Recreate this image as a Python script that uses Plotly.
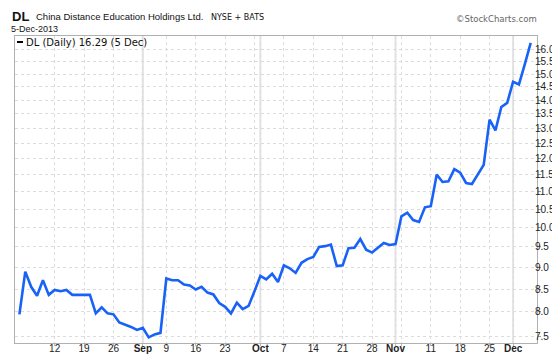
import math
import pandas as pd
import plotly.graph_objects as go

# ---------------- data ----------------
holidays = ["2013-09-02", "2013-11-28"]
dates = [d.strftime("%Y-%m-%d") for d in pd.bdate_range("2013-08-02", "2013-12-05")
         if d.strftime("%Y-%m-%d") not in holidays]

close = [7.95, 8.9, 8.55, 8.35, 8.7, 8.37, 8.48, 8.45, 8.48, 8.37,
         8.37, 8.37, 8.37, 7.97, 8.1, 7.97, 7.95, 7.78, 7.74, 7.69,
         7.63, 7.67, 7.48, 7.54, 7.57, 8.74, 8.7, 8.7, 8.6, 8.58,
         8.49, 8.55, 8.42, 8.38, 8.19, 8.11, 7.97, 8.2, 8.06, 8.13,
         8.45, 8.8, 8.72, 8.85, 8.66, 9.05, 8.98, 8.87, 9.11, 9.2,
         9.25, 9.5, 9.52, 9.56, 9.03, 9.05, 9.47, 9.48, 9.7, 9.43,
         9.36, 9.47, 9.6, 9.55, 9.57, 10.3, 10.4, 10.2, 10.15, 10.55,
         10.58, 11.5, 11.28, 11.3, 11.67, 11.56, 11.25, 11.22, 11.5, 11.8,
         13.3, 12.93, 13.75, 13.9, 14.7, 14.6, 15.4, 16.29]

week_ticks = ["2013-08-12", "2013-08-19", "2013-08-26", "2013-09-03", "2013-09-09",
              "2013-09-16", "2013-09-23", "2013-09-30", "2013-10-01", "2013-10-07",
              "2013-10-14", "2013-10-21", "2013-10-28", "2013-11-01", "2013-11-04",
              "2013-11-11", "2013-11-18", "2013-11-25", "2013-12-02"]
week_labels = ["12", "19", "26", "<b>Sep</b>", "9", "16", "23", "", "<b>Oct</b>", "7",
               "14", "21", "28", "<b>Nov</b>", "", "11", "18", "25", "<b>Dec</b>"]
month_starts = ["2013-09-03", "2013-10-01", "2013-11-01", "2013-12-02"]

y_ticks = [7.5, 8.0, 8.5, 9.0, 9.5, 10.0, 10.5, 11.0, 11.5, 12.0, 12.5,
           13.0, 13.5, 14.0, 14.5, 15.0, 15.5, 16.0]
y_range = [7.37, 16.59]

# ---------------- figure ----------------
W, H = 560, 355
L, R, T, B = 7, 31, 28, 20
pw, ph = W - L - R, H - T - B


def px(x):
    return (x - L) / pw


def py(y):
    return 1 - (y - T) / ph


fig = go.Figure()
fig.add_trace(go.Scatter(x=dates, y=close, mode="lines",
                         line=dict(color="#1862f7", width=2.6), showlegend=False))

grid_col = "#dcdcdc"
fig.update_layout(
    width=W, height=H,
    margin=dict(l=L, r=R, t=T, b=B, pad=0),
    paper_bgcolor="white", plot_bgcolor="white",
    font=dict(family="Arial, Liberation Sans", size=10, color="#222"),
    xaxis=dict(type="category", range=[-0.75, 88.07],
               tickmode="array", tickvals=week_ticks, ticktext=week_labels,
               showgrid=True, gridcolor=grid_col, griddash="dot", gridwidth=1,
               ticks="outside", ticklen=2, tickcolor="#bbb",
               ticklabelstandoff=-6,
               tickfont=dict(family="Arial", size=10, color="#222"),
               showline=True, linecolor="#b0b0b0", mirror=True, zeroline=False,
               tickangle=0, automargin=False),
    yaxis=dict(type="log", side="right",
               range=[math.log10(y_range[0]), math.log10(y_range[1])],
               tickmode="array", tickvals=y_ticks,
               ticktext=["%.1f" % v for v in y_ticks],
               showgrid=True, gridcolor=grid_col, griddash="dot", gridwidth=1,
               ticks="outside", ticklen=3, tickcolor="#999",
               ticklabelstandoff=-8,
               tickfont=dict(family="Arial", size=10, color="#222"),
               showline=True, linecolor="#b0b0b0", mirror=True, zeroline=False,
               automargin=False),
)

# month separator lines
for m in month_starts:
    fig.add_shape(type="line", xref="x", yref="paper",
                  x0=dates.index(m), x1=dates.index(m), y0=0, y1=1,
                  line=dict(color="#e3e3e3", width=2), layer="below")

# legend line + text
fig.add_shape(type="line", xref="paper", yref="paper",
              x0=px(9), x1=px(15), y0=py(34), y1=py(34),
              line=dict(color="black", width=2))
fig.add_annotation(xref="paper", yref="paper", x=px(16), y=py(34.5),
                   xanchor="left", yanchor="middle", showarrow=False,
                   text="DL (Daily) %.2f (5 Dec)" % close[-1],
                   font=dict(family="DejaVu Sans", size=10, color="#111"))

# header
fig.add_annotation(xref="paper", yref="paper", x=px(2), y=py(8.5),
                   xanchor="left", yanchor="middle", showarrow=False,
                   text="<b>DL</b>", font=dict(family="Arial", size=13, color="#111"))
fig.add_annotation(xref="paper", yref="paper", x=px(26), y=py(9),
                   xanchor="left", yanchor="middle", showarrow=False,
                   text="China Distance Education Holdings Ltd.",
                   font=dict(family="Arial", size=9.5, color="#111"))
fig.add_annotation(xref="paper", yref="paper", x=px(201), y=py(9.5),
                   xanchor="left", yanchor="middle", showarrow=False,
                   text="NYSE + BATS",
                   font=dict(family="DejaVu Sans", size=8, color="#111"))
fig.add_annotation(xref="paper", yref="paper", x=px(1), y=py(21.5),
                   xanchor="left", yanchor="middle", showarrow=False,
                   text="5-Dec-2013",
                   font=dict(family="Arial", size=9, color="#111"))
fig.add_annotation(xref="paper", yref="paper", x=px(531), y=py(11),
                   xanchor="right", yanchor="middle", showarrow=False,
                   text="©StockCharts.com",
                   font=dict(family="DejaVu Sans", size=8.5, color="#666"))

fig.write_html("out.html")
